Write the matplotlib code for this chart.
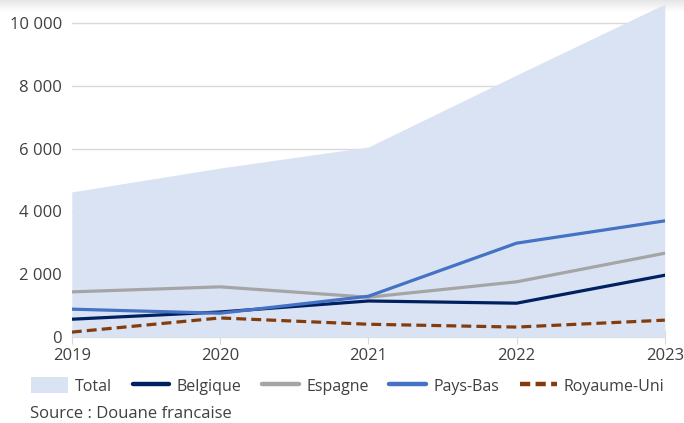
import matplotlib
matplotlib.use('Agg')
import matplotlib.pyplot as plt
import numpy as np
from matplotlib.ticker import FuncFormatter

plt.rcParams['font.family'] = ['Open Sans', 'DejaVu Sans']

years = ['2019', '2020', '2021', '2022', '2023']
total = [4620, 5380, 6050, 8340, 10600]
belgique = [570, 800, 1150, 1080, 1970]
espagne = [1440, 1600, 1270, 1760, 2670]
pays_bas = [890, 760, 1300, 2990, 3700]
royaume_uni = [160, 610, 410, 320, 540]

x = list(range(len(years)))
txt = '#404040'

fig = plt.figure(figsize=(6.84, 4.23), dpi=100)

# faint shadow along the top edge
sh = fig.add_axes([0, 1 - 12 / 423, 1, 12 / 423], zorder=-5)
sh.imshow(np.linspace(0.90, 1.0, 50)[:, None], cmap='gray', vmin=0, vmax=1, aspect='auto')
sh.axis('off')

ax = fig.add_axes([0.105, 0.203, 0.867, 0.795])
ax.patch.set_alpha(0)

ax.fill_between(x, 0, total, color='#dae3f3', linewidth=0, label='Total', zorder=1)
ax.plot(x, belgique, color='#002060', lw=2.3, label='Belgique', zorder=3)
ax.plot(x, espagne, color='#a5a5a5', lw=2.3, label='Espagne', zorder=3)
ax.plot(x, pays_bas, color='#4472c4', lw=2.3, label='Pays-Bas', zorder=4)
ax.plot(x, royaume_uni, color='#843c0c', lw=2.3, ls=(0, (3.1, 1.6)), label='Royaume-Uni', zorder=3)

ax.set_xlim(0, len(years) - 1)
ax.set_ylim(0, 10700)
ax.set_yticks(range(0, 10001, 2000))
ax.yaxis.set_major_formatter(FuncFormatter(lambda v, p: f'{int(v):,}'.replace(',', ' ')))
ax.set_xticks(x)
ax.set_xticklabels(years)

ax.grid(axis='y', color='#d9d9d9', lw=1, zorder=0)
ax.set_axisbelow(True)
for s in ['top', 'right', 'left']:
    ax.spines[s].set_visible(False)
ax.spines['bottom'].set_color('#d9d9d9')
ax.spines['bottom'].set_zorder(0)
ax.tick_params(axis='y', length=0, pad=7, labelsize=12, labelcolor=txt)
ax.tick_params(axis='x', direction='inout', length=10, color='#d9d9d9', pad=3,
               labelsize=12, labelcolor=txt)

leg = fig.legend(loc='center left', bbox_to_anchor=(0.045, 1 - 386 / 423), ncol=5,
                 frameon=False, fontsize=11.5, handlelength=2.3, handleheight=1.1,
                 columnspacing=1.3, handletextpad=0.45, borderpad=0, borderaxespad=0,
                 labelcolor=txt)
for h in leg.legend_handles[1:]:
    h.set_linewidth(3.2)
    h.set_solid_capstyle('round')
leg.legend_handles[-1].set_linestyle((0, (2.3, 1.2)))

fig.text(0.044, 1 - 414 / 423, 'Source : Douane francaise', fontsize=12, color=txt,
         va='center')

fig.savefig('out.png', dpi=100)
